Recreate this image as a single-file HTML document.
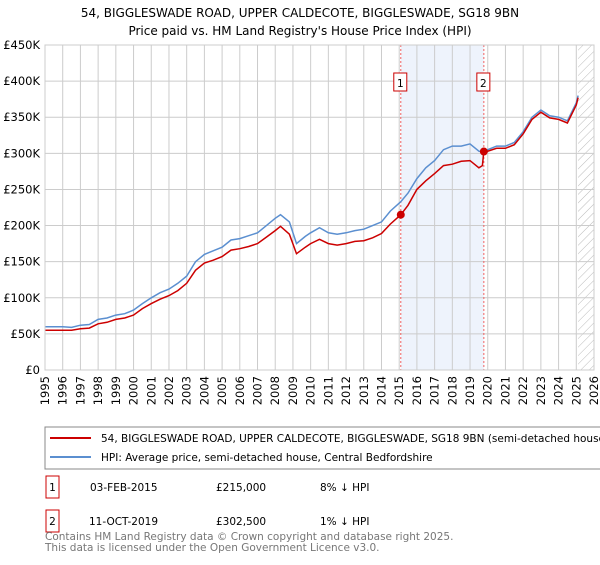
<!DOCTYPE html>
<html><head><meta charset="utf-8"><style>
body{margin:0;background:#fff;width:600px;height:560px;overflow:hidden;font-family:"Liberation Sans","DejaVu Sans",sans-serif;}
svg text{font-family:"DejaVu Sans","Liberation Sans",sans-serif;}
</style></head><body>
<svg id="c" width="600" height="560" xmlns="http://www.w3.org/2000/svg">
<text x="300" y="17" text-anchor="middle" font-size="12">54, BIGGLESWADE ROAD, UPPER CALDECOTE, BIGGLESWADE, SG18 9BN</text>
<text x="300" y="35" text-anchor="middle" font-size="12">Price paid vs. HM Land Registry's House Price Index (HPI)</text>
<defs><pattern id="h" width="6" height="6" patternUnits="userSpaceOnUse" patternTransform="rotate(45)"><line x1="0" y1="0" x2="0" y2="6" stroke="#bbb" stroke-width="1"/></pattern></defs>
<g id="plot"></g>
<rect x="45" y="427" width="560" height="42" fill="#fff" stroke="#888"/>
<line x1="50" y1="438" x2="91" y2="438" stroke="#cc0000" stroke-width="2"/>
<text x="101" y="442" font-size="10.5">54, BIGGLESWADE ROAD, UPPER CALDECOTE, BIGGLESWADE, SG18 9BN (semi-detached house)</text>
<line x1="50" y1="457" x2="91" y2="457" stroke="#5b8fd0" stroke-width="2"/>
<text x="101" y="461" font-size="10.5">HPI: Average price, semi-detached house, Central Bedfordshire</text>
<g font-size="10.5">
<rect x="46" y="476" width="13" height="22" fill="#fff" stroke="#cc0000"/><text x="52.5" y="491" text-anchor="middle">1</text>
<text x="90" y="491">03-FEB-2015</text><text x="216" y="491">£215,000</text><text x="320" y="491">8% ↓ HPI</text></g>
<g font-size="10.5">
<rect x="46" y="510" width="13" height="22" fill="#fff" stroke="#cc0000"/><text x="52.5" y="525" text-anchor="middle">2</text>
<text x="89" y="525">11-OCT-2019</text><text x="216" y="525">£302,500</text><text x="320" y="525">1% ↓ HPI</text></g>
<text x="45" y="540" font-size="10.5" fill="#777">Contains HM Land Registry data © Crown copyright and database right 2025.</text>
<text x="45" y="551" font-size="10.5" fill="#777">This data is licensed under the Open Government Licence v3.0.</text>
</svg>
<script>
const dates=[1995,1995.5,1996,1996.5,1997,1997.5,1998,1998.5,1999,1999.5,2000,2000.5,2001,2001.5,2002,2002.5,2003,2003.5,2004,2004.5,2005,2005.5,2006,2006.5,2007,2007.5,2008,2008.3,2008.8,2009.2,2009.7,2010,2010.5,2011,2011.5,2012,2012.5,2013,2013.5,2014,2014.5,2015.09,2015.5,2016,2016.5,2017,2017.5,2018,2018.5,2019,2019.5,2019.7,2019.78,2020,2020.5,2021,2021.5,2022,2022.5,2023,2023.5,2024,2024.5,2025,2025.1];
const hpiValues=[60,60,60,59,62,63,70,72,76,78,83,92,100,107,112,120,130,150,160,165,170,180,182,186,190,200,210,215,205,175,185,190,197,190,188,190,193,195,200,205,220,233,245,265,280,290,305,310,310,313,303,302,305,305,310,310,315,330,350,360,352,350,345,370,380];
const priceValues=[55,55,55,55,57,58,64,66,70,72,76,85,92,98,103,110,120,138,148,152,157,166,168,171,175,184,193,199,188,161,170,175,181,175,173,175,178,179,183,189,202,215,228,250,262,272,283,285,289,290,280,283,302.5,303,307,307,312,327,347,357,349,347,342,367,377];
const yTicks=[0,50,100,150,200,250,300,350,400,450];
const xTicks=[1995,1996,1997,1998,1999,2000,2001,2002,2003,2004,2005,2006,2007,2008,2009,2010,2011,2012,2013,2014,2015,2016,2017,2018,2019,2020,2021,2022,2023,2024,2025,2026];
const sales=[[2015.09,215],[2019.78,302.5]];
const L=45,R=594,T=45,B=370;
const X=d=>L+(d-1995)/(2026-1995)*(R-L);
const Y=v=>B-v/450*(B-T);
const ns="http://www.w3.org/2000/svg",g=document.getElementById('plot');
function mk(t,a){const e=document.createElementNS(ns,t);for(const k in a)e.setAttribute(k,a[k]);g.appendChild(e);return e;}
let e;
e=mk('rect',{x:X(sales[0][0]),y:T,width:X(sales[1][0])-X(sales[0][0]),height:B-T,fill:'#eef3fc'});


e=mk('rect',{x:X(2025.1),y:T,width:R-X(2025.1),height:B-T,fill:'url(#h)'});


yTicks.forEach(v=>{
e=mk('line',{x1:L,x2:R,y1:Y(v),y2:Y(v),stroke:'#ccc'});


e=mk('text',{x:L-5,y:Y(v)+4,'text-anchor':'end','font-size':'11.5'});e.textContent=v?'£'+v+'K':'£0';


});
xTicks.forEach(d=>{
e=mk('line',{x1:X(d),x2:X(d),y1:T,y2:B,stroke:'#ccc'});


e=mk('text',{x:X(d)+4,y:B+6,'text-anchor':'end','font-size':'11.5',transform:`rotate(-90 ${X(d)+4} ${B+6})`});e.textContent=d;


});
sales.forEach((s,i)=>{
e=mk('line',{x1:X(s[0]),x2:X(s[0]),y1:T,y2:B,stroke:'#f06060','stroke-dasharray':'2,2'});


e=mk('rect',{x:X(s[0])-7,y:73,width:13,height:18,fill:'#fff',stroke:'#cc0000'});


e=mk('text',{x:X(s[0])-0.5,y:87,'text-anchor':'middle','font-size':'10.5'});e.textContent=i+1;


});
const pts=v=>dates.map((d,i)=>X(d).toFixed(1)+','+Y(v[i]).toFixed(1)).join(' ');
e=mk('polyline',{points:pts(hpiValues),fill:'none',stroke:'#5b8fd0','stroke-width':1.5});


e=mk('polyline',{points:pts(priceValues),fill:'none',stroke:'#cc0000','stroke-width':1.5});


sales.forEach(s=>{
e=mk('circle',{cx:X(s[0]),cy:Y(s[1]),r:4,fill:'#cc0000'});


});
e=mk('rect',{x:L,y:T,width:R-L,height:B-T,fill:'none',stroke:'#ccc'});


</script>
</body></html>
